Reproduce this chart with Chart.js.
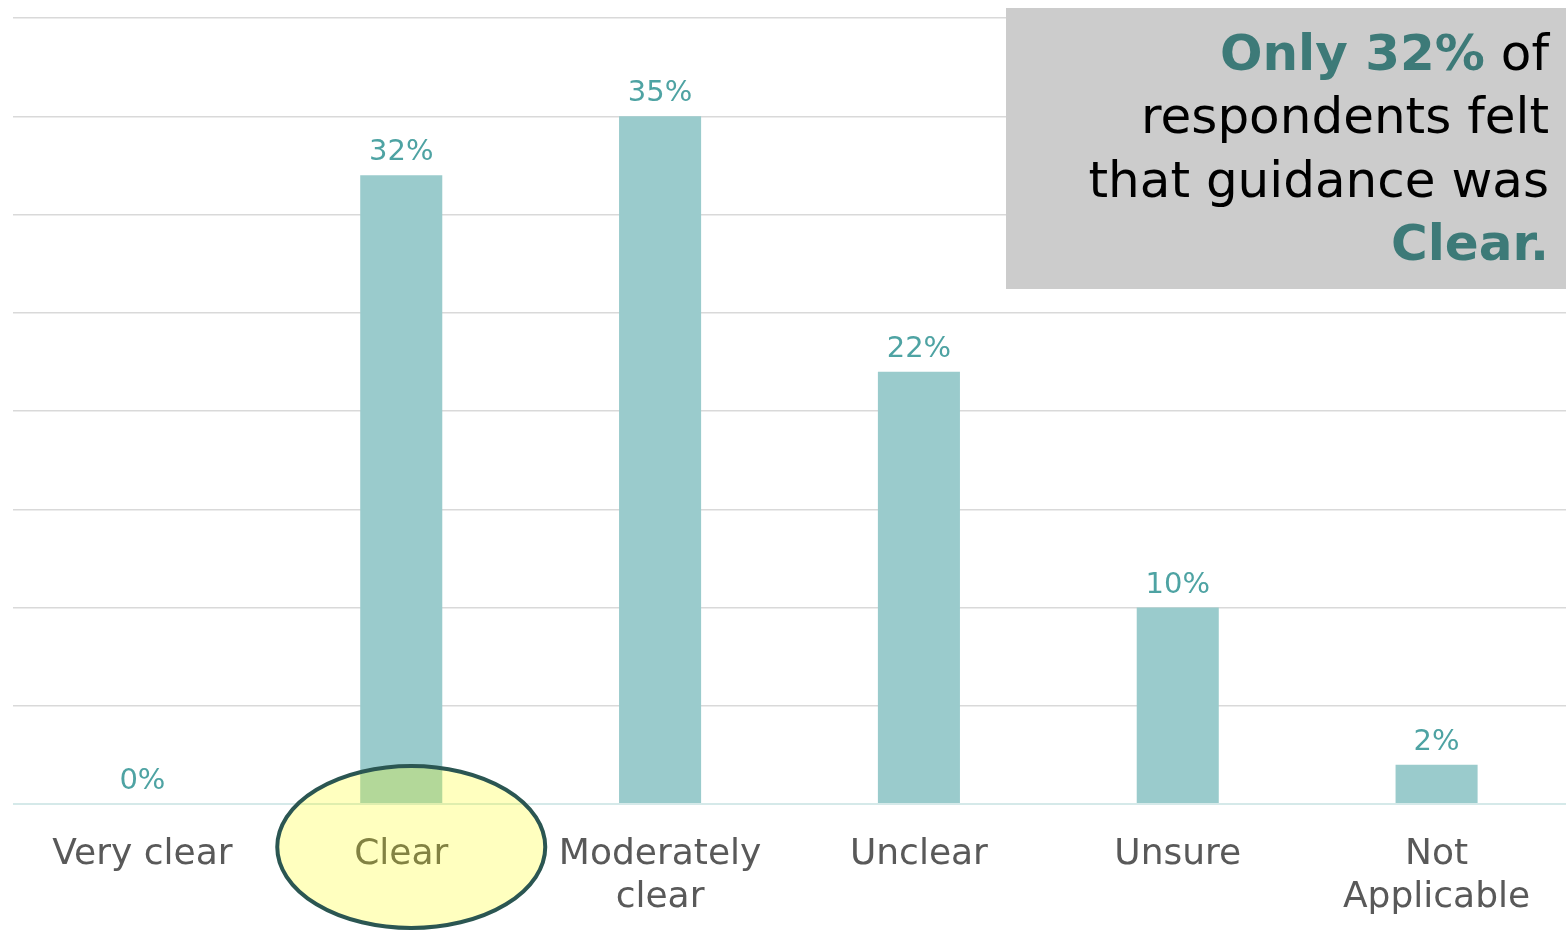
<!DOCTYPE html>
<html>
<head>
<meta charset="utf-8">
<script src="https://cdn.jsdelivr.net/npm/chart.js@4/dist/chart.umd.min.js"></script>
<style>
  html, body { margin: 0; padding: 0; background: #fff; }
  #wrap { width: 1566px; height: 931px; position: relative; }
</style>
</head>
<body>
<div id="wrap"><canvas id="clarityChart"></canvas></div>
<script>
// survey answers
const categories = ['Very clear', 'Clear', ['Moderately', 'clear'], 'Unclear', 'Unsure', ['Not', 'Applicable']];
const shares = [0, 32, 35, 22, 10, 2];
const gridSteps = [0, 5, 10, 15, 20, 25, 30, 35, 40];

const FONT = '"DejaVu Sans", sans-serif';
const TEAL_DARK = '#3d7a78';

// % labels above each bar
const valueLabels = {
    id: 'valueLabels',
    afterDatasetsDraw(chart) {
        const ctx = chart.ctx;
        const meta = chart.getDatasetMeta(0);
        ctx.save();
        ctx.font = '29px ' + FONT;
        ctx.fillStyle = '#4ea3a3';
        ctx.textAlign = 'center';
        ctx.textBaseline = 'alphabetic';
        meta.data.forEach((bar, i) => {
            ctx.fillText(shares[i] + '%', bar.x, bar.y - 15);
        });
        ctx.restore();
    }
};

// grey callout top right + highlight ring round "Clear"
const callout = {
    id: 'callout',
    afterDraw(chart) {
        const ctx = chart.ctx;
        ctx.save();

        ctx.fillStyle = '#cccccc';
        ctx.fillRect(1006, 8, 560, 281);

        const right = 1549;
        const lines = [
            [['Only 32%', true], [' of', false]],
            [['respondents felt', false]],
            [['that guidance was', false]],
            [['Clear.', true]]
        ];
        ctx.textBaseline = 'alphabetic';
        ctx.textAlign = 'left';
        lines.forEach((runs, li) => {
            const y = 70 + li * 63.3;
            let total = 0;
            runs.forEach(r => {
                ctx.font = (r[1] ? 'bold ' : '') + '50px ' + FONT;
                total += ctx.measureText(r[0]).width;
            });
            let x = right - total;
            runs.forEach(r => {
                ctx.font = (r[1] ? 'bold ' : '') + '50px ' + FONT;
                ctx.fillStyle = r[1] ? TEAL_DARK : '#000000';
                ctx.fillText(r[0], x, y);
                x += ctx.measureText(r[0]).width;
            });
        });

        const cx = chart.scales.x.getPixelForValue(1) + 10;
        ctx.beginPath();
        ctx.ellipse(cx, 847, 134, 81, 0, 0, Math.PI * 2);
        ctx.fillStyle = 'rgba(255, 255, 0, 0.25)';
        ctx.fill();
        ctx.lineWidth = 4;
        ctx.strokeStyle = '#2b5652';
        ctx.stroke();

        ctx.restore();
    }
};

new Chart(document.getElementById('clarityChart'), {
    type: 'bar',
    data: {
        labels: categories,
        datasets: [{
            data: shares,
            backgroundColor: '#9acbcc',
            categoryPercentage: 1,
            barPercentage: 0.317
        }]
    },
    options: {
        responsive: true,
        maintainAspectRatio: false,
        animation: false,
        layout: { padding: { left: 13, right: 0, top: 18, bottom: 0 } },
        plugins: {
            legend: { display: false },
            tooltip: { enabled: false }
        },
        scales: {
            x: {
                grid: { display: false, drawTicks: false },
                border: { display: false },
                afterFit(scale) { scale.height = 127; },
                ticks: {
                    color: '#595959',
                    font: { family: FONT, size: 36, lineHeight: 1.2 },
                    padding: 29,
                    maxRotation: 0,
                    autoSkip: false
                }
            },
            y: {
                min: 0,
                max: 40,
                afterBuildTicks(scale) {
                    scale.ticks = gridSteps.map(v => ({ value: v }));
                },
                grid: {
                    drawTicks: false,
                    color: c => c.tick && c.tick.value === 0 ? '#d5e9e9' : '#d9d9d9',
                    lineWidth: c => c.tick && c.tick.value === 0 ? 2 : 1.5
                },
                border: { display: false },
                ticks: { display: false }
            }
        }
    },
    plugins: [valueLabels, callout]
});
</script>
</body>
</html>
